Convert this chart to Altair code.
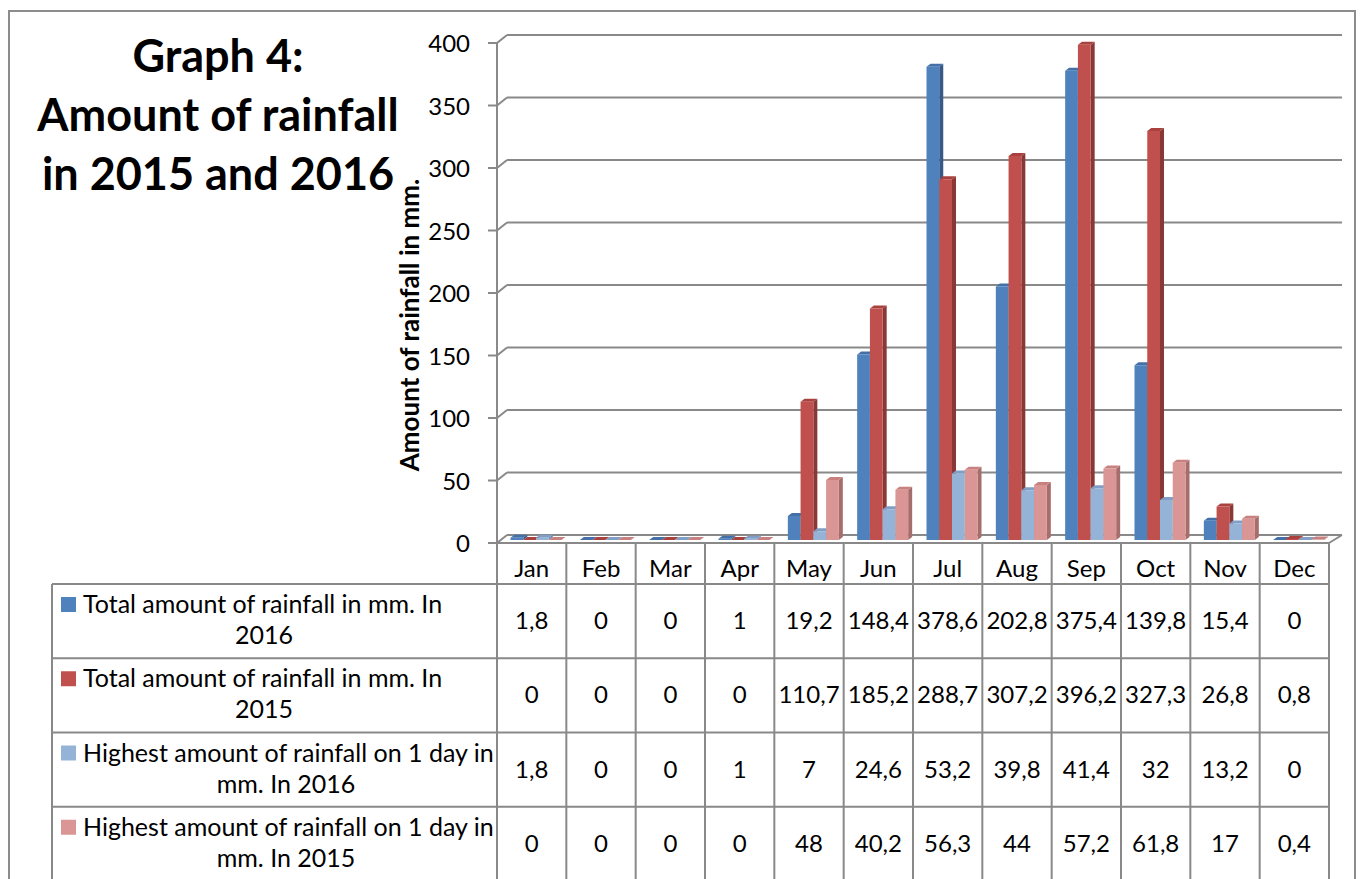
import altair as alt
import pandas as pd

# ---------------------------------------------------------------- data
months = ["Jan", "Feb", "Mar", "Apr", "May", "Jun",
          "Jul", "Aug", "Sep", "Oct", "Nov", "Dec"]
total_2016 = [1.8, 0, 0, 1, 19.2, 148.4, 378.6, 202.8, 375.4, 139.8, 15.4, 0]
total_2015 = [0, 0, 0, 0, 110.7, 185.2, 288.7, 307.2, 396.2, 327.3, 26.8, 0.8]
max_day_2016 = [1.8, 0, 0, 1, 7, 24.6, 53.2, 39.8, 41.4, 32, 13.2, 0]
max_day_2015 = [0, 0, 0, 0, 48, 40.2, 56.3, 44, 57.2, 61.8, 17, 0.4]

series_labels = [
    ("Total amount of rainfall in mm. In", "2016"),
    ("Total amount of rainfall in mm. In", "2015"),
    ("Highest amount of rainfall on 1 day in", "mm. In 2016"),
    ("Highest amount of rainfall on 1 day in", "mm. In 2015"),
]
y_ticks = [0, 50, 100, 150, 200, 250, 300, 350, 400]

title_lines = ["Graph 4:", "Amount of rainfall", "in 2015 and 2016"]
y_title = "Amount of rainfall in mm."

# ---------------------------------------------------------------- styling
FONT = "Lato"
FRONT = ["#4F81BD", "#C0504D", "#95B3D7", "#D99694"]
SIDE = ["#375A86", "#8A3836", "#6A87AC", "#A56E6C"]
TOP = ["#4470A8", "#A9423F", "#819FC6", "#C8817F"]
LINE = "#898989"

# plot geometry (pixels on the page)
LEFT, RIGHT = 497, 1329
COL = (RIGHT - LEFT) / 12.0
BAR_PX, GROUP_PAD_PX = 12.75, 13.5
DEPTH_X_PX, DEPTH_Y_PX = 4, 3
WALL_X_PX, WALL_Y_PX = 10, 8

X = alt.Scale(domain=[0, 12], range=[LEFT, RIGHT], nice=False, zero=False)
Y_FRONT = alt.Scale(domain=[0, 400], range=[543, 43], nice=False)
Y_BAR = alt.Scale(domain=[0, 400], range=[540, 40], nice=False)
Y_BACK = alt.Scale(domain=[0, 400], range=[535, 35], nice=False)
Y_ROW = alt.Scale(domain=[0, 4], range=[584, 881], nice=False, zero=False)
ROW_PX = (881 - 584) / 4.0


def px(v):
    """pixel distance -> month units on the x scale"""
    return v / COL


def rows(v):
    """pixel distance -> row units on the table scale"""
    return v / ROW_PX


series_values = [total_2016, total_2015, max_day_2016, max_day_2015]
series_ids = ["s0", "s1", "s2", "s3"]
DY = DEPTH_Y_PX * 400 / 500.0

front_rows, side_rows, top_rows = [], [], []
for j, vals in enumerate(series_values):
    for i, v in enumerate(vals):
        x0 = i + px(GROUP_PAD_PX + j * BAR_PX)
        x1 = x0 + px(BAR_PX)
        dx = px(DEPTH_X_PX)
        bar = f"{j}-{i}"
        s = series_ids[j]
        front_rows.append(dict(s=s, x0=x0, x1=x1, v=v, base=0))
        side_rows += [
            dict(s=s, bar=bar, x=x1, hi=v, lo=0),
            dict(s=s, bar=bar, x=x1 + dx, hi=v + DY, lo=DY),
        ]
        top_rows += [
            dict(s=s, bar=bar, x=x0, hi=v, lo=v),
            dict(s=s, bar=bar, x=x0 + dx, hi=v + DY, lo=v),
            dict(s=s, bar=bar, x=x1, hi=v + DY, lo=v),
            dict(s=s, bar=bar, x=x1 + dx, hi=v + DY, lo=v + DY),
        ]
front_df = pd.DataFrame(front_rows)
side_df = pd.DataFrame(side_rows)
top_df = pd.DataFrame(top_rows)


def colors(rng):
    return alt.Color("s:N", scale=alt.Scale(domain=series_ids, range=rng), legend=None)


side = alt.Chart(side_df).mark_area(orient="vertical", interpolate="linear").encode(
    x=alt.X("x:Q", scale=X, axis=None),
    y=alt.Y("hi:Q", scale=Y_BAR, axis=None, stack=None),
    y2="lo:Q",
    color=colors(SIDE),
    detail="bar:N",
)
top = alt.Chart(top_df).mark_area(orient="vertical", interpolate="linear").encode(
    x=alt.X("x:Q", scale=X, axis=None),
    y=alt.Y("hi:Q", scale=Y_BAR, axis=None, stack=None),
    y2="lo:Q",
    color=colors(TOP),
    detail="bar:N",
)
front = alt.Chart(front_df).mark_rect().encode(
    x=alt.X("x0:Q", scale=X, axis=None),
    x2="x1:Q",
    y=alt.Y("v:Q", scale=Y_BAR, axis=None),
    y2="base:Q",
    color=colors(FRONT),
)

# ---------------------------------------------------------------- walls and axis
tick_df = pd.DataFrame({"t": y_ticks})
tick_df["wx0"] = px(WALL_X_PX)
tick_df["wx1"] = 12 + px(13)
tick_df["ax0"] = 0.0
tick_df["tk0"] = -px(9)
tick_df["lab_x"] = -px(27)
tick_df["label"] = [str(t) for t in y_ticks]

back_grid = alt.Chart(tick_df).mark_rule(color=LINE, strokeWidth=2).encode(
    x=alt.X("wx0:Q", scale=X, axis=None),
    x2="wx1:Q",
    y=alt.Y("t:Q", scale=Y_BACK, axis=None),
)

diag_df = pd.DataFrame({
    "xa": [0.0] * len(y_ticks) + [12.0],
    "xb": [px(WALL_X_PX)] * len(y_ticks) + [12 + px(13)],
    "t": y_ticks + [0],
})
diagonals = alt.Chart(diag_df).mark_rule(color=LINE, strokeWidth=2, y2Offset=-WALL_Y_PX).encode(
    x=alt.X("xa:Q", scale=X, axis=None),
    x2="xb:Q",
    y=alt.Y("t:Q", scale=Y_FRONT, axis=None),
    y2="t:Q",
)

tick_marks = alt.Chart(tick_df).mark_rule(color=LINE, strokeWidth=2).encode(
    x=alt.X("tk0:Q", scale=X, axis=None),
    x2="ax0:Q",
    y=alt.Y("t:Q", scale=Y_FRONT, axis=None),
)
axis_line = alt.Chart(pd.DataFrame({"x": [0.0], "a": [0], "b": [400]})).mark_rule(
    color=LINE, strokeWidth=2
).encode(
    x=alt.X("x:Q", scale=X, axis=None),
    y=alt.Y("a:Q", scale=Y_FRONT, axis=None),
    y2="b:Q",
)
tick_labels = alt.Chart(tick_df).mark_text(
    font=FONT, fontSize=24, color="black", align="right", baseline="middle", dy=2
).encode(
    x=alt.X("lab_x:Q", scale=X, axis=None),
    y=alt.Y("t:Q", scale=Y_FRONT, axis=None),
    text="label:N",
)

# ---------------------------------------------------------------- data table
HEADER_TOP = rows(543 - 584)
LEGEND_LEFT = -px(LEFT - 52)

vlines = pd.DataFrame({
    "x": [float(k) for k in range(13)] + [LEGEND_LEFT],
    "a": [HEADER_TOP] * 13 + [0.0],
    "b": [4.0] * 14,
})
table_v = alt.Chart(vlines).mark_rule(color=LINE, strokeWidth=2).encode(
    x=alt.X("x:Q", scale=X, axis=None),
    y=alt.Y("a:Q", scale=Y_ROW, axis=None),
    y2="b:Q",
)
hlines = pd.DataFrame({
    "r": [HEADER_TOP, 0.0, 1.0, 2.0, 3.0],
    "xa": [0.0] + [LEGEND_LEFT] * 4,
    "xb": [12.0] * 5,
})
table_h = alt.Chart(hlines).mark_rule(color=LINE, strokeWidth=2).encode(
    x=alt.X("xa:Q", scale=X, axis=None),
    x2="xb:Q",
    y=alt.Y("r:Q", scale=Y_ROW, axis=None),
)

month_df = pd.DataFrame({"m": months, "x": [i + 0.5 for i in range(12)], "r": rows(570 - 584)})
month_text = alt.Chart(month_df).mark_text(
    font=FONT, fontSize=24, color="black", baseline="middle"
).encode(
    x=alt.X("x:Q", scale=X, axis=None),
    y=alt.Y("r:Q", scale=Y_ROW, axis=None),
    text="m:N",
)


def fmt(v):
    return f"{v:g}".replace(".", ",")


cell_rows = []
for j, vals in enumerate(series_values):
    for i, v in enumerate(vals):
        cell_rows.append(dict(x=i + 0.5, r=j + 0.5, txt=fmt(v)))
cells = alt.Chart(pd.DataFrame(cell_rows)).mark_text(
    font=FONT, fontSize=24, color="black", baseline="middle", dy=1
).encode(
    x=alt.X("x:Q", scale=X, axis=None),
    y=alt.Y("r:Q", scale=Y_ROW, axis=None),
    text="txt:N",
)

line2_center = [264, 264, 286, 286]
leg1 = pd.DataFrame({
    "txt": [a for a, _ in series_labels],
    "x": -px(LEFT - 83),
    "r": [j + rows(29) for j in range(4)],
})
leg2 = pd.DataFrame({
    "txt": [b for _, b in series_labels],
    "x": [-px(LEFT - c) for c in line2_center],
    "r": [j + rows(60) for j in range(4)],
})
legend_line1 = alt.Chart(leg1).mark_text(
    font=FONT, fontSize=25, color="black", align="left", baseline="alphabetic"
).encode(
    x=alt.X("x:Q", scale=X, axis=None),
    y=alt.Y("r:Q", scale=Y_ROW, axis=None),
    text="txt:N",
)
legend_line2 = alt.Chart(leg2).mark_text(
    font=FONT, fontSize=25, color="black", align="center", baseline="alphabetic"
).encode(
    x=alt.X("x:Q", scale=X, axis=None),
    y=alt.Y("r:Q", scale=Y_ROW, axis=None),
    text="txt:N",
)
key_df = pd.DataFrame({
    "s": series_ids,
    "x": -px(LEFT - 68.5),
    "r": [j + rows(20.5) for j in range(4)],
})
keys = alt.Chart(key_df).mark_square(size=225, opacity=1, strokeWidth=0).encode(
    x=alt.X("x:Q", scale=X, axis=None),
    y=alt.Y("r:Q", scale=Y_ROW, axis=None),
    color=colors(FRONT),
)

# ---------------------------------------------------------------- titles and frame
one = pd.DataFrame({"k": [0]})
title = alt.Chart(one).mark_text(
    font=FONT, fontSize=45, fontWeight="bold", color="black",
    align="center", baseline="alphabetic", lineHeight=59,
).encode(x=alt.value(218), y=alt.value(72), text=alt.value(title_lines))

ytitle = alt.Chart(one).mark_text(
    font=FONT, fontSize=26, fontWeight="bold", color="black",
    align="center", baseline="middle", angle=270,
).encode(x=alt.value(411), y=alt.value(325), text=alt.value(y_title))

frame = alt.Chart(one).mark_rect(fillOpacity=0, stroke="#8C8C8C", strokeWidth=2).encode(
    x=alt.value(9), x2=alt.value(1355), y=alt.value(11), y2=alt.value(905)
)

chart = alt.layer(
    frame, back_grid, diagonals, tick_marks, axis_line, tick_labels,
    side, top, front,
    table_v, table_h, month_text, cells, keys, legend_line1, legend_line2,
    title, ytitle,
).resolve_scale(
    y="independent", color="independent"
).properties(
    width=1362, height=879,
    autosize=alt.AutoSizeParams(type="none"),
    padding=0,
    background="white",
).configure_view(stroke=None)

chart.save("out.html", embed_options={"renderer": "svg", "actions": False})
